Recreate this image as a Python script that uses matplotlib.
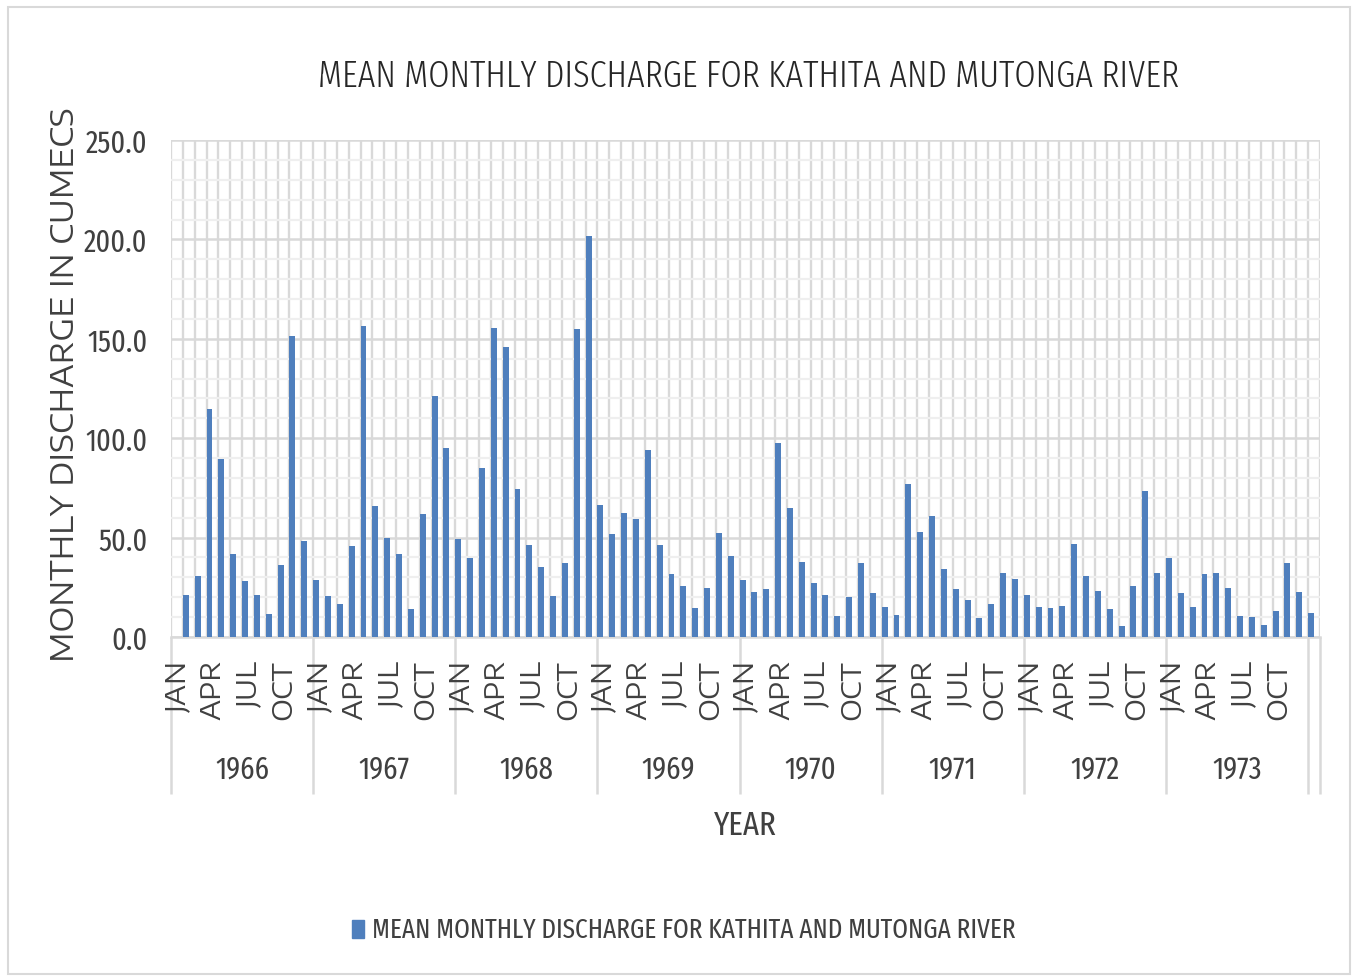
import numpy as np
import matplotlib.pyplot as plt
from matplotlib.patches import Rectangle
from matplotlib.ticker import MultipleLocator, FormatStrFormatter

years = ["1966", "1967", "1968", "1969", "1970", "1971", "1972", "1973"]
months = ["JAN", "FEB", "MAR", "APR", "MAY", "JUN",
          "JUL", "AUG", "SEP", "OCT", "NOV", "DEC"]
shown_months = ["JAN", "APR", "JUL", "OCT"]

# mean monthly discharge (cumecs), JAN..DEC for each year
q1966 = [21.1, 30.9, 114.7, 89.4, 41.6, 28.2, 21.1, 11.4, 36.4, 151.6, 48.3, 28.8]
q1967 = [20.5, 16.8, 45.8, 156.6, 65.9, 50.0, 41.6, 13.9, 62.0, 121.4, 95.2, 49.3]
q1968 = [39.7, 84.8, 155.4, 145.7, 74.4, 46.3, 35.2, 20.8, 37.4, 154.8, 201.5, 66.2]
q1969 = [51.6, 62.5, 59.4, 93.9, 46.3, 31.5, 25.5, 14.4, 24.6, 52.1, 40.6, 28.8]
q1970 = [22.8, 24.1, 97.6, 64.7, 37.9, 27.0, 21.1, 10.6, 20.3, 37.2, 22.0, 15.1]
q1971 = [11.2, 77.0, 52.8, 60.7, 34.0, 24.1, 18.4, 9.4, 16.8, 32.2, 29.2, 21.0]
q1972 = [15.1, 14.6, 15.8, 46.9, 30.9, 23.0, 13.9, 5.7, 25.5, 73.3, 32.0, 39.7]
q1973 = [22.3, 14.9, 31.7, 32.0, 24.6, 10.4, 9.9, 5.9, 13.1, 37.2, 22.8, 11.9]

title = "MEAN MONTHLY DISCHARGE FOR KATHITA AND MUTONGA RIVER"
blue = "#4f7fbd"
grid = "#d9d9d9"
text_c = "#404040"
narrow = ["Fira Sans Extra Condensed", "DejaVu Sans"]
wide = ["Encode Sans Expanded", "DejaVu Sans"]

values = np.array(q1966 + q1967 + q1968 + q1969 + q1970 + q1971 + q1972 + q1973)
n = len(values)

W, H = 1356, 979
fig = plt.figure(figsize=(W / 100, H / 100), dpi=100)
fig.patches.append(Rectangle((8 / W, 4 / H), 1342 / W, 967 / H, transform=fig.transFigure,
                             fill=False, edgecolor=grid, linewidth=1.5))

left, right, top, bottom = 171, 1320, 141, 638
ax = fig.add_axes([left / W, 1 - bottom / H, (right - left) / W, (bottom - top) / H])

# bars sit just right of each category line (as in the original)
ax.bar(np.arange(n) + 1, values, width=0.5, align="edge", color=blue, zorder=3)

ax.set_xlim(0, n + 1)
ax.set_ylim(0, 250)
ax.yaxis.set_major_locator(MultipleLocator(50))
ax.yaxis.set_minor_locator(MultipleLocator(10))
ax.yaxis.set_major_formatter(FormatStrFormatter("%.1f"))
ax.set_xticks(np.arange(0, n + 2))
ax.set_xticklabels([])
ax.tick_params(axis="both", which="both", length=0)
ax.tick_params(axis="y", pad=17, labelsize=22, labelcolor=text_c)
for lab in ax.get_yticklabels():
    lab.set_family(narrow)

ax.grid(axis="x", which="major", color=grid, linewidth=1.7, zorder=0)
ax.grid(axis="y", which="major", color=grid, linewidth=1.8, zorder=0)
ax.grid(axis="y", which="minor", color="#efefef", linewidth=1.6, zorder=0)
ax.set_axisbelow(True)
for side in ["top", "left", "right"]:
    ax.spines[side].set_visible(False)
ax.spines["bottom"].set_color(grid)
ax.spines["bottom"].set_linewidth(1.8)

# month labels and year groups below the axis
trans = ax.get_xaxis_transform()
ph = bottom - top
for k, yr in enumerate(years):
    for m in shown_months:
        i = 12 * k + months.index(m)
        ax.text(i + 0.5, -(660 - bottom) / ph, m, transform=trans, rotation=90,
                ha="center", va="top", fontsize=20, color=text_c, family=wide)
    ax.text(12 * k + 6, -(770 - bottom) / ph, yr, transform=trans, ha="center", va="center",
            fontsize=22.5, color=text_c, family=narrow)
seps = list(range(0, n + 1, 12)) + [n + 1]
ax.vlines(seps, -(795 - bottom) / ph, 0, transform=trans, colors=grid, linewidth=1.8,
          clip_on=False)

fig.text(749 / W, 1 - 77 / H, title, ha="center", va="center", fontsize=26.8,
         color="#262626", family=narrow, weight=300)
fig.text(65 / W, 1 - 385 / H, "MONTHLY DISCHARGE IN CUMECS", rotation=90, ha="center",
         va="center", fontsize=22.5, color=text_c, family=wide)
fig.text(745 / W, 1 - 826 / H, "YEAR", ha="center", va="center", fontsize=24,
         color=text_c, family=narrow)

# legend
fig.patches.append(Rectangle((352 / W, 1 - 939 / H), 12 / W, 18 / H,
                             transform=fig.transFigure, color=blue))
fig.text(372 / W, 1 - 930 / H, title, ha="left", va="center", fontsize=19.6,
         color=text_c, family=narrow)

fig.savefig("out.png", dpi=100)
